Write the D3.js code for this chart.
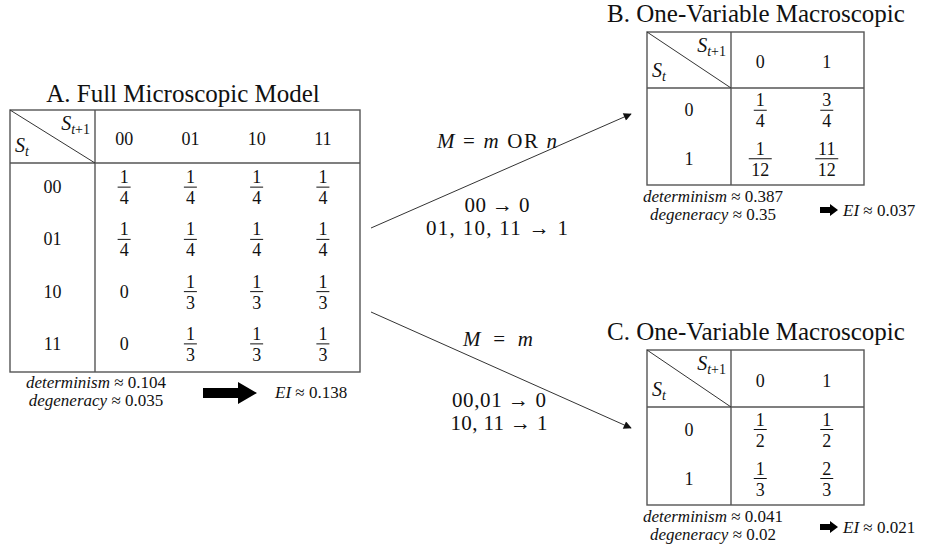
<!DOCTYPE html>
<html>
<head>
<meta charset="utf-8">
<script src="https://cdn.jsdelivr.net/npm/d3@7/dist/d3.min.js"></script>
<style>
  body { margin: 0; background: #fff; }
  svg { display: block; }
  .title { font-family: "Liberation Serif", "Times New Roman", serif; font-size: 25px; fill: #111; }
  .cell { font-family: "Liberation Serif", serif; font-size: 18px; fill: #111; }
  .math { font-family: "Liberation Serif", serif; font-size: 17px; fill: #111; }
  .big { font-size: 21px; }
  .it { font-style: italic; }
</style>
</head>
<body>
<div id="chart"></div>
<script>
// ---- data ----
var microStates = ["00", "01", "10", "11"];
var microTPM = [
  ["1/4", "1/4", "1/4", "1/4"],
  ["1/4", "1/4", "1/4", "1/4"],
  ["0", "1/3", "1/3", "1/3"],
  ["0", "1/3", "1/3", "1/3"]
];
var macroStates = ["0", "1"];
var macroTPM_B = [["1/4", "3/4"], ["1/12", "11/12"]];
var macroTPM_C = [["1/2", "1/2"], ["1/3", "2/3"]];
var panelTitles = ["A. Full Microscopic Model", "B. One-Variable Macroscopic", "C. One-Variable Macroscopic"];
var determinismVals = ["0.104", "0.387", "0.041"];
var degeneracyVals = ["0.035", "0.35", "0.02"];
var eiVals = ["0.138", "0.037", "0.021"];
var mappingB = ["00 \u2192 0", "01, 10, 11 \u2192 1"];
var mappingC = ["00,01 \u2192 0", "10, 11 \u2192 1"];

var W = 930, H = 552;
var svg = d3.select("#chart").append("svg").attr("width", W).attr("height", H);

svg.append("defs").append("marker")
  .attr("id", "head")
  .attr("viewBox", "0 0 10 10")
  .attr("refX", 9).attr("refY", 5)
  .attr("markerWidth", 9).attr("markerHeight", 8)
  .attr("markerUnits", "userSpaceOnUse")
  .attr("orient", "auto")
  .append("path").attr("d", "M0,0 L10,5 L0,10 Z").attr("fill", "#111");

// fraction "a/b" or plain value centred at cx, cy
function drawValue(g, sVal, cx, cy) {
  var parts = sVal.split("/");
  if (parts.length === 1) {
    g.append("text").attr("class", "cell").attr("x", cx).attr("y", cy)
      .attr("text-anchor", "middle").attr("dominant-baseline", "central").text(sVal);
    return;
  }
  var w = Math.max(parts[0].length, parts[1].length) * 10 + 3;
  g.append("text").attr("class", "cell").attr("x", cx).attr("y", cy - 4)
    .attr("text-anchor", "middle").text(parts[0]);
  g.append("line").attr("x1", cx - w / 2).attr("x2", cx + w / 2)
    .attr("y1", cy).attr("y2", cy).attr("stroke", "#111").attr("stroke-width", 1);
  g.append("text").attr("class", "cell").attr("x", cx).attr("y", cy + 17)
    .attr("text-anchor", "middle").text(parts[1]);
}

function drawTable(o) {
  var g = svg.append("g");
  var x = d3.scaleBand().domain(o.states).range([o.divX, o.x1]);
  var y = d3.scaleBand().domain(o.states).range([o.headY, o.y1]);
  var stroke = "#555";

  g.append("rect").attr("x", o.x0).attr("y", o.y0)
    .attr("width", o.x1 - o.x0).attr("height", o.y1 - o.y0)
    .attr("fill", "none").attr("stroke", stroke).attr("stroke-width", 1.4);
  g.append("line").attr("x1", o.divX).attr("x2", o.divX).attr("y1", o.y0).attr("y2", o.y1)
    .attr("stroke", stroke).attr("stroke-width", 1.4);
  g.append("line").attr("x1", o.x0).attr("x2", o.x1).attr("y1", o.headY).attr("y2", o.headY)
    .attr("stroke", stroke).attr("stroke-width", 1.4);
  g.append("line").attr("x1", o.x0).attr("y1", o.y0).attr("x2", o.divX).attr("y2", o.headY)
    .attr("stroke", "#333").attr("stroke-width", 1);

  // corner labels S_{t+1} and S_t
  var t1 = g.append("text").attr("class", "math").attr("x", o.divX - 5).attr("y", o.y0 + 20)
    .attr("text-anchor", "end");
  t1.append("tspan").attr("class", "it").attr("font-size", 20).text("S");
  t1.append("tspan").attr("class", "it").attr("font-size", 14).attr("dy", 4).text("t");
  t1.append("tspan").attr("font-size", 14).text("+1");
  var t2 = g.append("text").attr("class", "math").attr("x", o.x0 + 5).attr("y", o.headY - 11);
  t2.append("tspan").attr("class", "it").attr("font-size", 20).text("S");
  t2.append("tspan").attr("class", "it").attr("font-size", 14).attr("dy", 4).text("t");

  // column headers
  g.selectAll(".colh").data(o.states).enter().append("text")
    .attr("class", "cell")
    .attr("x", function(d) { return x(d) + x.bandwidth() / 2 + o.shift; })
    .attr("y", (o.y0 + o.headY) / 2 + 2)
    .attr("text-anchor", "middle").attr("dominant-baseline", "central")
    .text(function(d) { return d; });

  // row headers
  g.selectAll(".rowh").data(o.states).enter().append("text")
    .attr("class", "cell")
    .attr("x", (o.x0 + o.divX) / 2)
    .attr("y", function(d) { return y(d) + y.bandwidth() / 2 + o.rowShift; })
    .attr("text-anchor", "middle").attr("dominant-baseline", "central")
    .text(function(d) { return d; });

  o.tpm.forEach(function(row, i) {
    row.forEach(function(v, j) {
      drawValue(g, v, x(o.states[j]) + x.bandwidth() / 2 + o.shift,
        y(o.states[i]) + y.bandwidth() / 2 + o.rowShift);
    });
  });

  svg.append("text").attr("class", "title")
    .attr("x", o.titleX).attr("y", o.titleY)
    .attr("text-anchor", "middle").text(o.title);
}

function mathLine(x, y, word, val, anchor) {
  var t = svg.append("text").attr("class", "math").attr("x", x).attr("y", y)
    .attr("text-anchor", anchor);
  t.append("tspan").attr("class", "it").text(word);
  t.append("tspan").text(" \u2248 " + val);
}

function fatArrow(x0, x1, cy, body, head, headLen) {
  var xb = x1 - headLen;
  svg.append("path")
    .attr("d", "M" + x0 + "," + (cy - body / 2) + " L" + xb + "," + (cy - body / 2) +
      " L" + xb + "," + (cy - head / 2) + " L" + x1 + "," + cy +
      " L" + xb + "," + (cy + head / 2) + " L" + xb + "," + (cy + body / 2) +
      " L" + x0 + "," + (cy + body / 2) + " Z")
    .attr("fill", "#000");
}

// ---- table A ----
drawTable({ x0: 10, y0: 110, x1: 360, y1: 372, divX: 95, headY: 163, shift: -4, rowShift: -2,
  states: microStates, tpm: microTPM, title: panelTitles[0], titleX: 183, titleY: 102 });
mathLine(96, 388, "determinism", determinismVals[0], "middle");
mathLine(96, 406, "degeneracy", degeneracyVals[0], "middle");
fatArrow(203, 257, 393, 10, 22, 19);
mathLine(275, 398, "EI", eiVals[0], "start");

// ---- table B ----
drawTable({ x0: 647, y0: 32, x1: 864, y1: 185, divX: 731, headY: 88, shift: -4, rowShift: -2,
  states: macroStates, tpm: macroTPM_B, title: panelTitles[1], titleX: 756, titleY: 22 });
mathLine(713, 202, "determinism", determinismVals[1], "middle");
mathLine(713, 220, "degeneracy", degeneracyVals[1], "middle");
fatArrow(820, 838, 210, 6, 12, 8);
mathLine(843, 216, "EI", eiVals[1], "start");

// ---- table C ----
drawTable({ x0: 647, y0: 350, x1: 864, y1: 505, divX: 731, headY: 407, shift: -4, rowShift: -2,
  states: macroStates, tpm: macroTPM_C, title: panelTitles[2], titleX: 756, titleY: 340 });
mathLine(713, 522, "determinism", determinismVals[2], "middle");
mathLine(713, 540, "degeneracy", degeneracyVals[2], "middle");
fatArrow(820, 838, 527, 6, 12, 8);
mathLine(843, 533, "EI", eiVals[2], "start");

// ---- mapping arrows ----
svg.append("line").attr("x1", 371).attr("y1", 228).attr("x2", 631).attr("y2", 114)
  .attr("stroke", "#333").attr("stroke-width", 1).attr("marker-end", "url(#head)");
svg.append("line").attr("x1", 371).attr("y1", 312).attr("x2", 631).attr("y2", 428)
  .attr("stroke", "#333").attr("stroke-width", 1).attr("marker-end", "url(#head)");

var mB = svg.append("text").attr("class", "math big").attr("x", 437).attr("y", 148)
  .attr("textLength", 120).attr("lengthAdjust", "spacing");
mB.append("tspan").attr("class", "it").text("M");
mB.append("tspan").text(" = ");
mB.append("tspan").attr("class", "it").text("m");
mB.append("tspan").text(" OR ");
mB.append("tspan").attr("class", "it").text("n");

var widthsB = [65, 142];
svg.selectAll(".mapB").data(mappingB).enter().append("text")
  .attr("class", "math big")
  .attr("x", function(d, i) { return 497 - widthsB[i] / 2; })
  .attr("y", function(d, i) { return 212 + i * 23; })
  .attr("textLength", function(d, i) { return widthsB[i]; })
  .attr("lengthAdjust", "spacing")
  .text(function(d) { return d; });

var mC = svg.append("text").attr("class", "math big").attr("x", 463).attr("y", 346)
  .attr("textLength", 70).attr("lengthAdjust", "spacing");
mC.append("tspan").attr("class", "it").text("M");
mC.append("tspan").text(" = ");
mC.append("tspan").attr("class", "it").text("m");

var widthsC = [94, 97];
svg.selectAll(".mapC").data(mappingC).enter().append("text")
  .attr("class", "math big")
  .attr("x", function(d, i) { return 499 - widthsC[i] / 2; })
  .attr("y", function(d, i) { return 407 + i * 23; })
  .attr("textLength", function(d, i) { return widthsC[i]; })
  .attr("lengthAdjust", "spacing")
  .text(function(d) { return d; });
</script>
</body>
</html>
